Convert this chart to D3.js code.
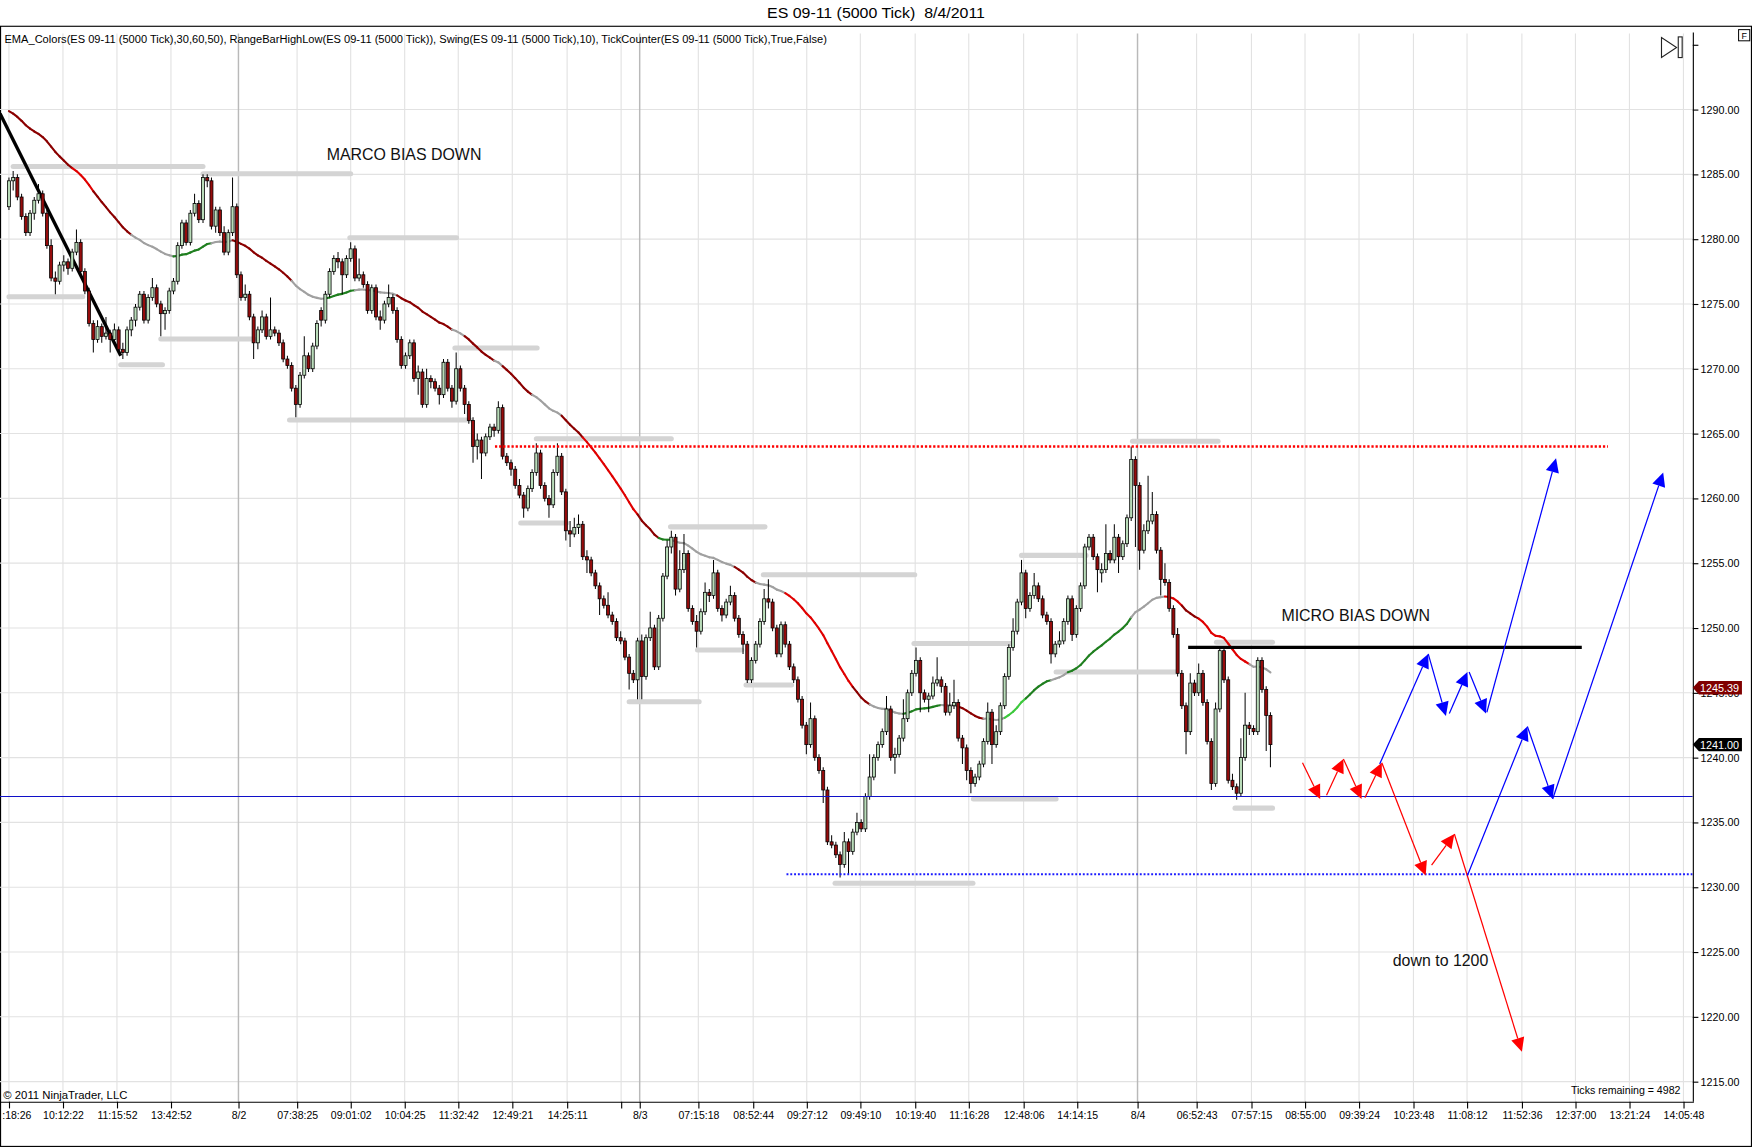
<!DOCTYPE html>
<html>
<head>
<meta charset="utf-8">
<script src="https://cdn.jsdelivr.net/npm/d3@7"></script>
<style>
html, body { margin: 0; padding: 0; background: #fff; }
svg { display: block; font-family: "Liberation Sans", Arial, sans-serif; }
</style>
</head>
<body>
<div id="chart"></div>
<script>
// OHLC per 5000-tick bar, split by session
const session1 = [
  [1282.5,1284.75,1282.25,1284.5],[1284.5,1285.25,1283.75,1284.75],[1284.75,1285,1283,1283.25],[1283.25,1283.5,1281.5,1281.75],
  [1281.75,1282,1280.25,1280.5],[1280.5,1282.25,1280.25,1282],[1282,1283.25,1281.5,1283],[1283,1284.25,1282.75,1283.5],
  [1283.5,1283.75,1281.75,1282],[1282,1282.25,1279.25,1279.5],[1279.5,1280,1276.75,1277],[1277,1277.5,1275.75,1276.75],
  [1276.75,1278.25,1276.5,1278],[1278,1278.75,1277.5,1278.25],[1278.25,1278.5,1277.25,1277.75],[1277.75,1279.25,1277.5,1279],
  [1279,1280.75,1278.75,1279.75],[1279.75,1280,1277.25,1277.5],[1277.5,1277.75,1275.75,1276],[1276,1276.25,1273.25,1273.5],
  [1273.5,1273.75,1271.25,1272.25],[1272.25,1273.75,1272,1273.25],[1273.25,1273.5,1272,1272.5],[1272.5,1274,1272.25,1272.75],
  [1272.75,1273,1271.25,1272.25],[1272.25,1273.5,1272,1273],[1273,1273.25,1271.25,1271.5],[1271.5,1272,1270.75,1271.25],
  [1271.25,1273.25,1271,1273],[1273,1274,1272.5,1273.75],[1273.75,1275,1273.25,1274.75],[1274.75,1276,1274.5,1275.75],
  [1275.75,1276,1273.5,1273.75],[1273.75,1275.75,1273.5,1275.5],[1275.5,1277,1275.25,1276.25],[1276.25,1276.5,1274.75,1275],
  [1275,1275.25,1272.5,1274.25],[1274.25,1274.75,1273,1274.5],[1274.5,1276.25,1274.25,1276],[1276,1277,1275.75,1276.75],
  [1276.75,1279.75,1276.5,1279.5],[1279.5,1281.5,1279.25,1281.25],[1281.25,1281.5,1279.5,1279.75],[1279.75,1282.25,1279.5,1282],
  [1282,1283.5,1281.75,1282.75],[1282.75,1283,1281.25,1281.5],[1281.5,1285,1281.25,1284.75],[1284.75,1285,1284,1284.5],
  [1284.5,1284.75,1280.75,1281],[1281,1282.5,1280.5,1282.25],[1282.25,1282.5,1280.25,1280.5],[1280.5,1281,1278.75,1279],
  [1279,1280.75,1278.75,1280.5],[1280.5,1284.75,1280.25,1282.5]
];
const session2 = [
  [1282.5,1282.75,1277,1277.25],[1277.25,1277.5,1275.25,1275.5],[1275.5,1276.5,1275.25,1275.75],[1275.75,1276,1273.75,1274],
  [1274,1274.25,1270.75,1272],[1272,1273.25,1271.5,1273],[1273,1274.5,1272.75,1274],[1274,1274.25,1272.25,1272.5],
  [1272.5,1275.5,1272.25,1273],[1273,1273.25,1272.5,1272.75],[1272.75,1273,1271.75,1272],[1272,1272.25,1270.5,1270.75],
  [1270.75,1271,1270,1270.25],[1270.25,1270.5,1268.25,1268.5],[1268.5,1268.75,1266.25,1267.25],[1267.25,1269.75,1267,1269.5],
  [1269.5,1272.5,1269.25,1271],[1271,1271.25,1269.75,1270],[1270,1272,1269.75,1271.75],[1271.75,1273.75,1271.5,1273.5],
  [1274.5,1274.75,1273.25,1273.75],[1273.75,1276,1273.5,1275.75],[1275.75,1277.75,1275.5,1277.5],[1277.5,1278.75,1277.25,1278.5],
  [1278.5,1279,1277.75,1278.25],[1278.25,1278.5,1275.75,1277.25],[1277.25,1278.75,1277,1278.5],[1278.5,1279.75,1278.25,1279.25],
  [1279.25,1279.5,1276.75,1277],[1277,1278.5,1276.75,1277.25],[1277.25,1277.5,1276.25,1276.5],[1276.5,1276.75,1274.25,1274.5],
  [1274.5,1276.5,1274.25,1276.25],[1276.25,1276.5,1273.75,1274],[1274,1274.5,1273,1273.75],[1273.75,1275.25,1273.5,1275],
  [1275,1276.5,1274.75,1275.5],[1275.5,1275.75,1274.25,1274.5],[1274.5,1274.75,1272,1272.25],[1272.25,1272.5,1270,1270.25],
  [1270.25,1271.25,1270,1271],[1271,1272.25,1270.75,1272],[1272,1272.25,1269,1269.25],[1269.25,1270.25,1268,1269.75],
  [1269.75,1270,1267,1267.25],[1267.25,1270,1267,1269.25],[1269.25,1269.5,1268.5,1269],[1269,1269.25,1268.25,1268.5],
  [1268.5,1268.75,1267.25,1268],[1268,1270.75,1267.75,1270.5],[1270.5,1270.75,1268.25,1268.5],[1268.5,1268.75,1267,1267.5],
  [1267.5,1271.25,1267.25,1270],[1270,1270.25,1268.25,1268.5],[1268.5,1268.75,1266.5,1267.25],[1267.25,1267.5,1265.75,1266],
  [1266,1266.25,1262.75,1264],[1264,1265,1263,1264.5],[1264.5,1264.75,1261.5,1263.5],[1263.5,1265,1263.25,1264.75],
  [1264.75,1265.75,1264.5,1265.5],[1265.5,1265.75,1264.75,1265.25],[1265.25,1267.5,1265,1267],[1267,1267.25,1263,1263.25],
  [1263.25,1263.5,1262.5,1262.75],[1262.75,1263,1261.75,1262.25],[1262.25,1262.5,1260.75,1261],[1261,1261.5,1260,1260.25],
  [1260.25,1260.5,1258.5,1259.25],[1259.25,1261,1259,1260.75],[1260.75,1262.25,1260.5,1262],[1262,1264.25,1261.75,1263.5],
  [1263.5,1263.75,1260.75,1261],[1261,1261.25,1259.75,1260],[1260,1260.25,1258.5,1259.5],[1259.5,1262.25,1259.25,1262],
  [1262,1264.25,1261.75,1263.25],[1263.25,1263.5,1260.25,1260.5],[1260.5,1260.75,1256.75,1257.5],[1257.5,1258.25,1256.25,1257.25],
  [1257.25,1258.5,1257,1257.75],[1257.75,1258.75,1257.25,1258],[1258,1258.25,1255.25,1255.5],[1255.5,1256,1254.25,1255.25],
  [1255.25,1255.5,1254,1254.25],[1254.25,1254.5,1253,1253.25],[1253.25,1253.5,1251,1252.25],[1252.25,1252.5,1251.5,1251.75],
  [1251.75,1252.75,1250.75,1251],[1251,1251.25,1250.25,1250.5],[1250.5,1250.75,1249,1249.25],[1249.25,1249.75,1248.75,1249],
  [1249,1249.25,1247.5,1247.75],[1247.75,1248,1245.25,1246.5],[1246.5,1246.75,1245.75,1246],[1246,1249.25,1244.5,1249]
];
const session3 = [
  [1249,1249.5,1244.5,1246.25],[1246.25,1249.5,1246,1249.25],[1249.25,1251.25,1249,1250],[1250,1250.25,1246.75,1247],
  [1247,1251,1246.75,1250.75],[1250.75,1254.25,1250.5,1254],[1254,1256.75,1253.75,1256.25],[1256.25,1257.5,1255.75,1257],
  [1257,1257.25,1252.5,1253],[1253,1256,1252.75,1254.5],[1254.5,1257.25,1254.25,1255.75],[1255.75,1256,1251.25,1251.5],
  [1251.5,1251.75,1250.25,1250.5],[1250.5,1251,1248.5,1249.75],[1249.75,1251.5,1249.5,1251.25],[1251.25,1253.5,1251,1252.75],
  [1252.75,1253,1252,1252.5],[1252.5,1255.25,1252.25,1254.25],[1254.25,1254.5,1251.25,1251.5],[1251.5,1251.75,1250.5,1251],
  [1251,1252.25,1250.75,1252],[1252,1253.25,1251.75,1252.5],[1252.5,1252.75,1250.5,1250.75],[1250.75,1251,1249.25,1249.5],
  [1249.5,1249.75,1248,1248.75],[1248.75,1249,1245.75,1246],[1246,1247.75,1245.75,1247.5],[1247.5,1249,1247.25,1248.75],
  [1248.75,1250.75,1248.5,1250.5],[1250.5,1253,1250.25,1252.25],[1252.25,1253.75,1251.5,1252],[1252,1252.25,1249.75,1250],
  [1250,1250.25,1247.75,1248],[1248,1250.5,1247.75,1250.25],[1250.25,1250.5,1248.5,1248.75],[1248.75,1249,1246.75,1247],
  [1247,1247.25,1245.75,1246],[1246,1246.25,1244.25,1244.5],[1244.5,1244.75,1242.25,1242.5],[1242.5,1242.75,1240.25,1241],
  [1241,1244.25,1240.75,1243],[1243,1243.25,1239.75,1240],[1240,1240.25,1238.75,1239],[1239,1239.25,1236.5,1237.5],
  [1237.5,1237.75,1233.25,1233.5],[1233.5,1234,1233,1233.25],[1233.25,1233.5,1232.25,1232.5],[1232.5,1232.75,1230.75,1231.75],
  [1231.75,1234.25,1231.5,1233.5],[1233.5,1233.75,1231,1232.75],[1232.75,1234.5,1232.5,1234.25],[1234.25,1235.75,1234,1235],
  [1235,1235.25,1234.25,1234.5],[1234.5,1237.25,1234.25,1237],[1237,1240.25,1236.75,1238.5],[1238.5,1240.25,1238.25,1240],
  [1240,1241.25,1239.75,1241],[1241,1242.25,1240.75,1242],[1242,1244.75,1241.75,1243.75],[1243.75,1244,1239.75,1240],
  [1240,1240.75,1238.75,1240.25],[1240.25,1241.75,1240,1241.5],[1241.5,1244.5,1241.25,1243],[1243,1245.25,1242.75,1245],
  [1245,1246.75,1244.75,1246.5],[1246.5,1248.5,1246.25,1247.5],[1247.5,1247.75,1243.5,1245],[1245,1245.25,1244.25,1244.5],
  [1244.5,1245,1243.5,1244.75],[1244.75,1246.25,1244.5,1245.75],[1245.75,1247.75,1245.5,1246],[1246,1246.25,1245,1245.5],
  [1245.5,1245.75,1243.25,1243.5],[1243.5,1245,1243.25,1244],[1244,1246,1243.75,1244.25],[1244.25,1244.5,1241.25,1241.5],
  [1241.5,1241.75,1239.5,1240.75],[1240.75,1241,1238.25,1239],[1239,1239.25,1237.25,1238],[1238,1238.75,1237.75,1238.5],
  [1238.5,1239.75,1238.25,1239.5],[1239.5,1241.5,1239.25,1241.25],[1241.25,1244.25,1241,1243.5],[1243.5,1243.75,1239.5,1241],
  [1241,1242.5,1240.75,1242],[1242,1244.25,1241.75,1244],[1244,1246.5,1243.75,1246.25],[1246.25,1248.75,1246,1248.5],
  [1248.5,1250.75,1248.25,1249.75],[1249.75,1252.25,1249.5,1252],[1252,1255.25,1251.75,1254.25],[1254.25,1254.5,1250.75,1251.5],
  [1251.5,1252.75,1251.25,1252.5],[1252.5,1254.25,1252.25,1253.25],[1253.25,1253.5,1252,1252.25],[1252.25,1252.5,1250.75,1251],
  [1251,1251.25,1250.25,1250.5],[1250.5,1250.75,1247.25,1248],[1248,1249,1247.75,1248.75],[1248.75,1249.75,1248.5,1249],
  [1249,1250.75,1248.75,1250.5],[1250.5,1252.5,1250.25,1252.25],[1252.25,1252.5,1249,1249.5],[1249.5,1251.75,1249.25,1251.5],
  [1251.5,1253.5,1251.25,1253.25],[1253.25,1256.5,1253,1256.25],[1256.25,1257.25,1256,1257],[1257,1257.25,1255.25,1255.5],
  [1255.5,1255.75,1252.75,1254.5],[1254.25,1255,1253.5,1254.5],[1254.5,1258,1254.25,1255.75],[1255.75,1256,1255,1255.25],
  [1255.25,1258,1255,1257],[1257,1257.25,1254.25,1255.5],[1255.5,1256.75,1255.25,1256.5],[1256.5,1258.75,1256.25,1258.5],
  [1258.5,1264,1258.25,1263],[1263,1263.25,1256.25,1261]
];
const session4 = [
  [1261,1261.25,1254.5,1256],[1256,1258,1255.75,1257.5],[1257.5,1261.75,1257.25,1258.25],[1258.25,1260.5,1258,1258.75],
  [1258.75,1259,1255.75,1256],[1256,1256.25,1252.5,1253.75],[1253.75,1255,1253.25,1253.5],[1253.5,1253.75,1251.25,1251.5],
  [1251.5,1251.75,1249.25,1249.5],[1249.5,1250,1246.25,1246.5],[1246.5,1246.75,1243.75,1244],[1244,1244.25,1240.25,1242],
  [1242,1246.5,1241.75,1245.75],[1245.75,1246,1244.75,1245],[1245,1247.25,1244.75,1246.5],[1246.5,1246.75,1244,1244.25],
  [1244.25,1244.5,1241,1241.25],[1241.25,1241.5,1237.5,1238],[1238,1244.25,1237.75,1243.75],[1243.75,1248.5,1243.5,1248.25],
  [1248.25,1248.5,1245.75,1246],[1246,1246.25,1238,1238.25],[1238.25,1238.75,1237.5,1237.75],[1237.75,1238,1236.75,1237.25],
  [1237.25,1241.5,1237,1240],[1240,1245,1239.75,1242.5],[1242.5,1242.75,1241.75,1242.25],[1242.25,1242.5,1241.75,1242],
  [1242,1247.75,1241.75,1247.5],[1247.5,1247.75,1245,1245.25],[1245.25,1245.5,1240.5,1243.25],[1243.25,1243.5,1239.25,1241]
];

// EMA settings and colour runs
const emaPeriod = 50;
const emaSeed = 1290.1;
const emaColorRuns = [
  [0,"d"],[15,"r"],[20,"d"],[29.5,"g"],[39,"n"],[48.4,"g"],[53,"d"],[67,"g"],[75.3,"n"],[81.6,"g"],
  [92,"d"],[105.3,"g"],[108.5,"d"],[115.2,"g"],[116.8,"d"],[124.3,"g"],[130.6,"d"],[136,"r"],[149,"d"],
  [153.9,"n"],[157.1,"g"],[172,"d"],[176.8,"g"],[184.3,"r"],[200,"d"],[204.1,"g"],[212,"n"],[221.5,"g"],
  [225.4,"d"],[231,"g"],[235.7,"b"],[241.2,"n"],[247.5,"g"],[250.7,"n"],[265.7,"g"],[273.6,"r"],
  [278.3,"d"],[282,"r"],[294.1,"g"],[298.9,"d"]
];
const emaColors = { d: "#8b0000", r: "#e00000", g: "#a0a0a0", n: "#1f7f1f", b: "#3cc83c" };

// swing high/low levels: [fromBar, toBar, price]
const swingLevels = [
  [1,46,1285.6],[46,81,1285.05],[0,17.5,1275.55],[26.5,36.4,1270.3],[36,58,1272.3],
  [66.5,109.3,1266.05],[80.8,106.1,1280.1],[105.7,125.2,1271.6],[125,157,1264.6],[121.3,132.2,1258.1],
  [156.8,179.2,1257.8],[178.8,214.7,1254.1],[163.2,173.7,1248.3],[174.7,185.5,1245.6],[147,163.6,1244.3],
  [195.8,228.5,1230.3],[214.5,237.5,1248.8],[228.6,248.2,1236.8],[240,255.3,1255.6],[248.2,276.8,1246.6],
  [266.3,286.6,1264.4],[286.2,299.5,1248.9],[290.6,299.5,1236.1]
];

// time axis
const tickBars = [0,12.8,25.6,38.4,54.4,68.3,81,93.8,106.5,119.3,132.3,145.1,149.5,163.4,176.4,189.1,
  201.8,214.8,227.5,240.5,253.2,267.5,281.5,294.5,307.2,320,332.9,345.6,358.6,371.3,384.1,396.9];
const tickLabels = [":18:26","10:12:22","11:15:52","13:42:52","8/2","07:38:25","09:01:02","10:04:25",
  "11:32:42","12:49:21","14:25:11","","8/3","07:15:18","08:52:44","09:27:12","09:49:10","10:19:40",
  "11:16:28","12:48:06","14:14:15","8/4","06:52:43","07:57:15","08:55:00","09:39:24","10:23:48",
  "11:08:12","11:52:36","12:37:00","13:21:24","14:05:48"];
const priceTicks = [1215,1220,1225,1230,1235,1240,1245,1250,1255,1260,1265,1270,1275,1280,1285,1290,1295];

// drawing objects
const trendLine = [-2.12, 1289.7, 26.5, 1271.0];
const redDotted = [115.2, 379, 1264];
const blueSolid = 1237;
const blueDotted = [184.3, 1231];
const blackLevel = [279.5, 372.8, 1248.5];
const redArrows = [
  [306.6,1239.6,310.8,1236.8],[312.3,1237.1,316.3,1239.9],[316.3,1239.9,320.6,1236.8],
  [321.4,1236.9,325.4,1239.6],[325.4,1239.6,335.8,1230.9],[337.2,1231.7,342.6,1234.1],
  [342.6,1234.1,358.6,1217.3]
];
const blueArrows = [
  [324.9,1239.5,336.4,1248.0],[336.4,1248.0,340.6,1243.2],[341.4,1243.4,345.7,1246.6],
  [346.1,1246.6,350.1,1243.4],[350.3,1243.5,366.7,1263.1],[345.7,1230.9,359.9,1242.4],
  [359.9,1242.4,365.9,1236.8],[365.9,1236.8,392.1,1262.0]
];
const notes = [
  { text: "MARCO BIAS DOWN", bar: 75.3, price: 1286.1, len: 138.5 },
  { text: "MICRO BIAS DOWN", bar: 301.6, price: 1250.5, len: 133 },
  { text: "down to 1200", bar: 328, price: 1223.9, len: 85.5 }
];
const markers = [
  { price: 1245.39, text: "1245.39", fill: "#800000" },
  { price: 1241.00, text: "1241.00", fill: "#000000" }
];

const bars = session1.concat(session2, session3, session4);
const closes = bars.map(b => b[3]);

const W = 1568, H = 1026.5;
const plotRight = 1515, plotTop = 27, plotBottom = 986;

const svg = d3.select("#chart").append("svg")
  .attr("width", 1752).attr("height", 1147)
  .attr("viewBox", `0 0 ${W} ${H}`);

svg.append("rect").attr("width", W).attr("height", H).attr("fill", "#fff");

const x = d3.scaleLinear().domain([0, bars.length - 1]).range([8, 1137]);
const y = d3.scaleLinear().domain([1215, 1290]).range([968, 98]);

svg.append("defs").append("clipPath").attr("id", "plotclip")
  .append("rect").attr("x", 0).attr("y", plotTop).attr("width", plotRight).attr("height", plotBottom - plotTop);

// title and frame
svg.append("text").attr("x", 784).attr("y", 16.5).attr("text-anchor", "middle")
  .attr("font-size", 13.5).attr("textLength", 195).attr("lengthAdjust", "spacingAndGlyphs")
  .text("ES 09-11 (5000 Tick)\u00a0\u00a08/4/2011");
svg.append("rect").attr("x", 0.5).attr("y", 23.5).attr("width", W - 1).attr("height", H - 24)
  .attr("fill", "none").attr("stroke", "#000").attr("stroke-width", 1);

// grid
const grid = svg.append("g").attr("clip-path", "url(#plotclip)");
grid.selectAll("line.h").data(priceTicks.filter(p => p <= 1290)).join("line")
  .attr("x1", 0).attr("x2", plotRight).attr("y1", d => y(d)).attr("y2", d => y(d))
  .attr("stroke", "#e2e2e2").attr("stroke-width", 1);
grid.selectAll("line.v").data(tickBars).join("line")
  .attr("x1", d => x(d)).attr("x2", d => x(d)).attr("y1", 30).attr("y2", plotBottom)
  .attr("stroke", (d, i) => tickLabels[i].includes("/") ? "#b9b9b9" : "#e2e2e2")
  .attr("stroke-width", (d, i) => tickLabels[i].includes("/") ? 1.3 : 1);

// legend line
svg.append("text").attr("x", 4).attr("y", 38.5).attr("font-size", 9.5)
  .attr("textLength", 736).attr("lengthAdjust", "spacingAndGlyphs")
  .text("EMA_Colors(ES 09-11 (5000 Tick),30,60,50), RangeBarHighLow(ES 09-11 (5000 Tick)), Swing(ES 09-11 (5000 Tick),10), TickCounter(ES 09-11 (5000 Tick),True,False)");

const plot = svg.append("g").attr("clip-path", "url(#plotclip)");

// swing levels
plot.selectAll("line.swing").data(swingLevels).join("line")
  .attr("x1", d => x(d[0])).attr("x2", d => x(d[1]))
  .attr("y1", d => y(d[2])).attr("y2", d => y(d[2]))
  .attr("stroke", "#d4d4d4").attr("stroke-width", 4.5).attr("stroke-linecap", "round");

// EMA
const k = 2 / (emaPeriod + 1);
let prev = emaSeed;
const ema = closes.map(c => (prev = prev + k * (c - prev)));
function emaColor(i) {
  let key = "d";
  emaColorRuns.forEach(r => { if (r[0] <= i + 0.5) key = r[1]; });
  return emaColors[key];
}
plot.selectAll("line.ema").data(d3.range(ema.length - 1)).join("line")
  .attr("x1", i => x(i)).attr("x2", i => x(i + 1))
  .attr("y1", i => y(ema[i])).attr("y2", i => y(ema[i + 1]))
  .attr("stroke", i => emaColor(i)).attr("stroke-width", 1.9).attr("stroke-linecap", "round");

// trend line
plot.append("line")
  .attr("x1", x(trendLine[0])).attr("y1", y(trendLine[1]))
  .attr("x2", x(trendLine[2])).attr("y2", y(trendLine[3]))
  .attr("stroke", "#000").attr("stroke-width", 3);

// candles
const bw = 2.7;
const c = plot.selectAll("g.candle").data(bars).join("g");
c.append("line")
  .attr("x1", (d, i) => x(i)).attr("x2", (d, i) => x(i))
  .attr("y1", d => y(d[1])).attr("y2", d => y(d[2]))
  .attr("stroke", "#000").attr("stroke-width", 0.9);
c.append("rect")
  .attr("x", (d, i) => x(i) - bw / 2).attr("width", bw)
  .attr("y", d => y(Math.max(d[0], d[3])))
  .attr("height", d => Math.max(0.8, Math.abs(y(d[0]) - y(d[3]))))
  .attr("fill", d => d[3] >= d[0] ? "#b9dcb9" : "#960c0c")
  .attr("stroke", "#000").attr("stroke-width", 0.7);

// horizontal drawing objects
plot.append("line").attr("x1", x(redDotted[0])).attr("x2", x(redDotted[1]))
  .attr("y1", y(redDotted[2])).attr("y2", y(redDotted[2]))
  .attr("stroke", "#ff0000").attr("stroke-width", 2.2).attr("stroke-dasharray", "2 1.7");
plot.append("line").attr("x1", 0).attr("x2", plotRight)
  .attr("y1", y(blueSolid)).attr("y2", y(blueSolid))
  .attr("stroke", "#1010c8").attr("stroke-width", 1);
plot.append("line").attr("x1", x(blueDotted[0])).attr("x2", plotRight)
  .attr("y1", y(blueDotted[1])).attr("y2", y(blueDotted[1]))
  .attr("stroke", "#1a1aff").attr("stroke-width", 1.8).attr("stroke-dasharray", "1.7 1.7");
plot.append("line").attr("x1", x(blackLevel[0])).attr("x2", x(blackLevel[1]))
  .attr("y1", y(blackLevel[2])).attr("y2", y(blackLevel[2]))
  .attr("stroke", "#000").attr("stroke-width", 3);

// arrows
function drawArrows(list, color) {
  const g = plot.append("g");
  list.forEach(a => {
    const x1 = x(a[0]), y1 = y(a[1]), x2 = x(a[2]), y2 = y(a[3]);
    const len = Math.hypot(x2 - x1, y2 - y1);
    const ux = (x2 - x1) / len, uy = (y2 - y1) / len;
    const L = 12.5, hw = 6;
    const bx = x2 - ux * L, by = y2 - uy * L;
    g.append("line").attr("x1", x1).attr("y1", y1).attr("x2", bx).attr("y2", by)
      .attr("stroke", color).attr("stroke-width", 1.1);
    g.append("polygon")
      .attr("points", [[x2, y2], [bx - uy * hw, by + ux * hw], [bx + uy * hw, by - ux * hw]].map(p => p.join(",")).join(" "))
      .attr("fill", color);
  });
}
drawArrows(redArrows, "#ff0000");
drawArrows(blueArrows, "#0000ff");

// notes
plot.selectAll("text.note").data(notes).join("text")
  .attr("x", d => x(d.bar)).attr("y", d => y(d.price))
  .attr("font-size", 14.5).attr("fill", "#111")
  .attr("textLength", d => d.len).attr("lengthAdjust", "spacingAndGlyphs")
  .text(d => d.text);

// axes
const yAxis = svg.append("g").attr("transform", `translate(${plotRight},0)`)
  .call(d3.axisRight(y).tickValues(priceTicks).tickSize(5).tickPadding(2)
    .tickFormat(d => d === 1295 ? "" : d.toFixed(2)));
yAxis.select(".domain").remove();
yAxis.selectAll("text").attr("font-size", 9.6).attr("fill", "#000").attr("font-family", "Liberation Sans, Arial, sans-serif");
yAxis.selectAll("line").attr("stroke", "#000");
svg.append("line").attr("x1", plotRight + 0.5).attr("x2", plotRight + 0.5).attr("y1", 29).attr("y2", plotBottom)
  .attr("stroke", "#000");

const xAxis = svg.append("g").attr("transform", `translate(0,${plotBottom})`)
  .call(d3.axisBottom(x).tickValues(tickBars).tickSize(6).tickPadding(3)
    .tickFormat((d, i) => tickLabels[i]));
xAxis.select(".domain").remove();
xAxis.selectAll("line").attr("stroke", "#000");
xAxis.selectAll("text").attr("font-size", 9.4).attr("fill", "#000").attr("font-family", "Liberation Sans, Arial, sans-serif");
xAxis.selectAll("text").filter((d, i) => tickLabels[i].startsWith(":"))
  .attr("text-anchor", "start").attr("x", -6.5);
svg.append("line").attr("x1", 0).attr("x2", plotRight + 1).attr("y1", plotBottom + 0.5).attr("y2", plotBottom + 0.5)
  .attr("stroke", "#000");

// price markers on the axis (drawn over the axis labels, as in the platform)
const mk = svg.selectAll("g.marker").data(markers).join("g")
  .attr("transform", d => `translate(${plotRight},${y(d.price)})`);
mk.append("polygon").attr("points", "0,0 5.5,-6 44,-6 44,6 5.5,6").attr("fill", d => d.fill);
mk.append("text").attr("x", 6.5).attr("y", 3.5).attr("font-size", 9.6).attr("fill", "#fff")
  .attr("textLength", 35).attr("lengthAdjust", "spacingAndGlyphs").text(d => d.text);

// footers
svg.append("text").attr("x", 3).attr("y", 984).attr("font-size", 9.5)
  .attr("textLength", 111).attr("lengthAdjust", "spacingAndGlyphs").text("\u00a9 2011 NinjaTrader, LLC");
svg.append("text").attr("x", 1504).attr("y", 979).attr("font-size", 9.5).attr("text-anchor", "end")
  .text("Ticks remaining = 4982");

// top-right controls
svg.append("path").attr("d", "M1487,33.5 L1487,51.5 L1500.5,42.5 Z")
  .attr("fill", "none").attr("stroke", "#222").attr("stroke-width", 1);
svg.append("rect").attr("x", 1502).attr("y", 33).attr("width", 3.5).attr("height", 18.5)
  .attr("fill", "none").attr("stroke", "#222").attr("stroke-width", 1);
svg.append("rect").attr("x", 1556).attr("y", 26.5).attr("width", 10).attr("height", 10)
  .attr("fill", "#fff").attr("stroke", "#000").attr("stroke-width", 0.9);
svg.append("text").attr("x", 1561).attr("y", 34.5).attr("text-anchor", "middle")
  .attr("font-size", 8).text("F");
</script>
</body>
</html>
